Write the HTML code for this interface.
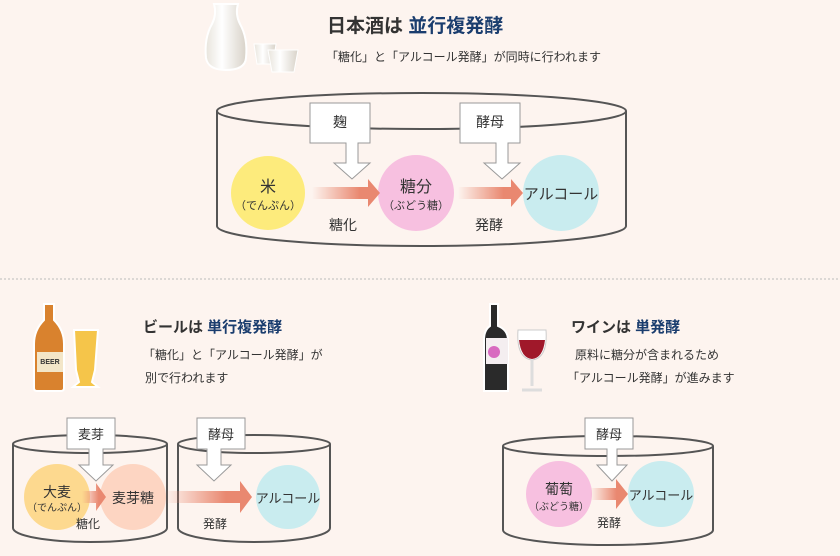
<!DOCTYPE html><html><head><meta charset="utf-8"><style>
body{margin:0;background:#fdf4ef;width:840px;height:551px;overflow:hidden}
svg text{font-family:"Liberation Sans","Noto Sans CJK JP",sans-serif;fill:#333}
</style></head><body>
<svg width="840" height="551" viewBox="0 0 840 551" xmlns="http://www.w3.org/2000/svg">
<defs>
<linearGradient id="g" x1="0" x2="1"><stop offset="0" stop-color="#e98870" stop-opacity="0"/><stop offset="0.7" stop-color="#e98870"/></linearGradient>
<linearGradient id="w" x1="0" x2="1"><stop offset="0" stop-color="#e8e4dc"/><stop offset="0.4" stop-color="#fff"/><stop offset="1" stop-color="#d8d2c8"/></linearGradient>
</defs>
<rect width="840" height="551" fill="#fdf4ef"/>
<line x1="0" y1="279" x2="840" y2="279" stroke="#bbb" stroke-dasharray="2,2"/>
<path d="M222 4 h16 q-3 10 2 20 q8 14 6 34 q-1 12 -20 12 q-18 0 -20 -12 q-2 -20 6 -34 q5 -10 2 -20z" fill="url(#w)" stroke="#fff" stroke-width="2"/>
<path d="M254 44 h22 l-3 20 h-16z" fill="url(#w)" stroke="#fff"/>
<path d="M268 50 h30 l-4 22 h-22z" fill="url(#w)" stroke="#fff"/>
<text x="327" y="32" font-size="19" font-weight="bold">日本酒は <tspan style="fill:#1a3d6e">並行複発酵</tspan></text>
<text x="326" y="61" font-size="12">「糖化」と「アルコール発酵」が同時に行われます</text>
<path d="M217 111 V226 A204.5 20 0 0 0 626 226 V111" fill="none" stroke="#555" stroke-width="2"/>
<ellipse cx="421.5" cy="111" rx="204.5" ry="18" fill="none" stroke="#555" stroke-width="2"/>
<circle cx="268" cy="193" r="37" fill="#fdeb7c"/>
<circle cx="416" cy="193" r="38" fill="#f7c0e0"/>
<circle cx="561" cy="193" r="38" fill="#c9ecef"/>
<path d="M312 187 h56 v-8 l12 14 -12 14 v-8 h-56z" fill="url(#g)"/>
<path d="M458 187 h53 v-8 l12 14 -12 14 v-8 h-53z" fill="url(#g)"/>
<path d="M310 103 h60 v40 h-12 v20 h12 l-18 16 -18 -16 h12 v-20 h-36z" fill="#fff" stroke="#999"/>
<path d="M460 103 h60 v40 h-12 v20 h12 l-18 16 -18 -16 h12 v-20 h-36z" fill="#fff" stroke="#999"/>
<text x="340" y="127" font-size="14" text-anchor="middle">麹</text>
<text x="490" y="127" font-size="14" text-anchor="middle">酵母</text>
<text x="268" y="192" font-size="16" text-anchor="middle">米</text>
<text x="268" y="209" font-size="11" text-anchor="middle">（でんぷん）</text>
<text x="416" y="192" font-size="16" text-anchor="middle">糖分</text>
<text x="416" y="209" font-size="11" text-anchor="middle">（ぶどう糖）</text>
<text x="561" y="199" font-size="15" text-anchor="middle">アルコール</text>
<text x="343" y="230" font-size="14" text-anchor="middle">糖化</text>
<text x="489" y="230" font-size="14" text-anchor="middle">発酵</text>
<path d="M44 304 h10 v16 q10 10 10 24 v44 q0 3 -3 3 h-24 q-3 0 -3 -3 v-44 q0 -14 10 -24z" fill="#d9822e" stroke="#fff" stroke-width="2"/>
<rect x="37" y="352" width="26" height="20" fill="#f3e6c8"/>
<text x="50" y="364" font-size="7" text-anchor="middle" font-weight="bold">BEER</text>
<path d="M74 330 h24 l-3 40 q-2 8 -3 12 l6 5 h-25 l6 -5 q-1 -4 -3 -12z" fill="#f5c54a" stroke="#fff" stroke-width="2"/>
<text x="143" y="332" font-size="15" font-weight="bold">ビールは <tspan style="fill:#1a3d6e">単行複発酵</tspan></text>
<text x="143" y="359" font-size="12">「糖化」と「アルコール発酵」が</text>
<text x="145" y="382" font-size="12">別で行われます</text>
<path d="M13 444 V528 A77 14 0 0 0 167 528 V444" fill="none" stroke="#555" stroke-width="2"/>
<ellipse cx="90" cy="444" rx="77" ry="9" fill="none" stroke="#555" stroke-width="2"/>
<path d="M178 444 V528 A76 14 0 0 0 330 528 V444" fill="none" stroke="#555" stroke-width="2"/>
<ellipse cx="254" cy="444" rx="76" ry="9" fill="none" stroke="#555" stroke-width="2"/>
<circle cx="57" cy="497" r="33" fill="#fdd98f"/>
<circle cx="133" cy="497" r="33" fill="#fdd5c2"/>
<circle cx="288" cy="497" r="32" fill="#c9ecef"/>
<path d="M82 491 h14 v-8 l10 14 -10 14 v-8 h-14z" fill="url(#g)"/>
<path d="M165 491 h75 v-10 l12 16 -12 16 v-10 h-75z" fill="url(#g)"/>
<path d="M67 418 h48 v31 h-12 v16 h10 l-17 16 -17 -16 h10 v-16 h-22z" fill="#fff" stroke="#999"/>
<path d="M197 418 h48 v31 h-24 v16 h10 l-17 16 -17 -16 h10 v-16 h-10z" fill="#fff" stroke="#999"/>
<text x="91" y="439" font-size="13" text-anchor="middle">麦芽</text>
<text x="221" y="439" font-size="13" text-anchor="middle">酵母</text>
<text x="57" y="497" font-size="14" text-anchor="middle">大麦</text>
<text x="57" y="511" font-size="10" text-anchor="middle">（でんぷん）</text>
<text x="133" y="503" font-size="14" text-anchor="middle">麦芽糖</text>
<text x="288" y="503" font-size="13" text-anchor="middle">アルコール</text>
<text x="88" y="528" font-size="12" text-anchor="middle">糖化</text>
<text x="215" y="528" font-size="12" text-anchor="middle">発酵</text>
<path d="M490 304 h8 v22 q10 4 10 14 v51 h-24 v-51 q0 -10 6 -14z" fill="#2a2a2a" stroke="#fff" stroke-width="2"/>
<rect x="486" y="338" width="22" height="26" fill="#f4eef0"/>
<circle cx="494" cy="352" r="6" fill="#d86ac0"/>
<path d="M518 330 q-2 28 14 30 q16 -2 14 -30z" fill="#fff" stroke="#ccc"/>
<path d="M519 340 q2 18 13 19 q11 -1 13 -19z" fill="#a0182a"/>
<path d="M532 360 v26 M522 390 h20" stroke="#ddd" stroke-width="3"/>
<text x="571" y="332" font-size="15" font-weight="bold">ワインは <tspan style="fill:#1a3d6e">単発酵</tspan></text>
<text x="575" y="359" font-size="12">原料に糖分が含まれるため</text>
<text x="567" y="382" font-size="12">「アルコール発酵」が進みます</text>
<path d="M503 446 V530 A105 15 0 0 0 713 530 V446" fill="none" stroke="#555" stroke-width="2"/>
<ellipse cx="608" cy="446" rx="105" ry="10" fill="none" stroke="#555" stroke-width="2"/>
<circle cx="559" cy="494" r="33" fill="#f7c0e0"/>
<circle cx="661" cy="494" r="33" fill="#c9ecef"/>
<path d="M590 488 h26 v-9 l12 15 -12 15 v-9 h-26z" fill="url(#g)"/>
<path d="M585 418 h48 v31 h-16 v16 h10 l-15 16 -15 -16 h10 v-16 h-22z" fill="#fff" stroke="#999"/>
<text x="609" y="439" font-size="13" text-anchor="middle">酵母</text>
<text x="559" y="494" font-size="14" text-anchor="middle">葡萄</text>
<text x="559" y="510" font-size="10" text-anchor="middle">（ぶどう糖）</text>
<text x="661" y="500" font-size="13" text-anchor="middle">アルコール</text>
<text x="609" y="527" font-size="12" text-anchor="middle">発酵</text>
</svg></body></html>
